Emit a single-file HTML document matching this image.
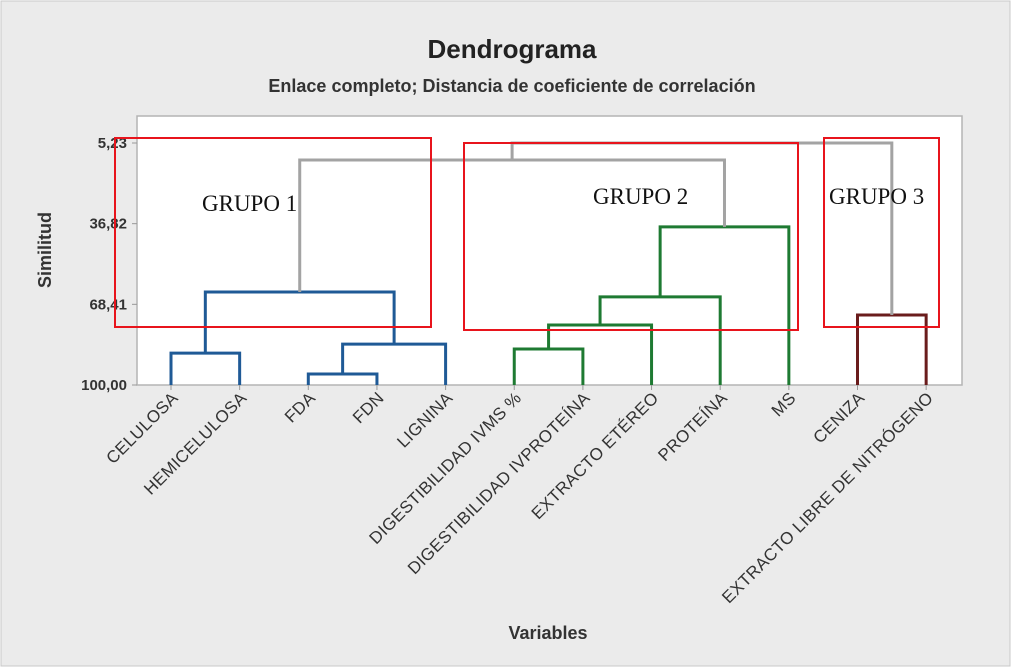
<!DOCTYPE html>
<html><head><meta charset="utf-8">
<style>
html,body{margin:0;padding:0;background:#fff;}
svg{display:block;}
text{font-family:"Liberation Sans",sans-serif;}
</style></head>
<body>
<svg id="chart" width="1011" height="667" viewBox="0 0 1011 667" xmlns="http://www.w3.org/2000/svg">
  <rect x="1" y="1" width="1009" height="665" fill="#ebebeb" stroke="#c8c8c8"/>
  <text x="512" y="58" text-anchor="middle" font-size="26" font-weight="bold" fill="#222">Dendrograma</text>
  <text x="512" y="92" text-anchor="middle" font-size="18" font-weight="bold" fill="#333">Enlace completo; Distancia de coeficiente de correlación</text>
  <rect x="137" y="116" width="825" height="269" fill="#fff" stroke="#b4b4b4" stroke-width="1.5"/>
  <text transform="translate(51,250) rotate(-90)" text-anchor="middle" font-size="18" font-weight="bold" fill="#333">Similitud</text>
  <text x="548" y="639" text-anchor="middle" font-size="18" font-weight="bold" fill="#333">Variables</text>
  <g id="axes"></g>
  <g id="links"></g>
  <g id="labels"></g>
  <g id="groups"></g>
</svg>
<script>
const leaves = ["CELULOSA","HEMICELULOSA","FDA","FDN","LIGNINA","DIGESTIBILIDAD IVMS %","DIGESTIBILIDAD IVPROTEÍNA","EXTRACTO ETÉREO","PROTEÍNA","MS","CENIZA","EXTRACTO LIBRE DE NITRÓGENO"];
const yTicks = [5.23, 36.82, 68.41, 100.00];
const yTickLabels = ["5,23","36,82","68,41","100,00"];
// merges: nodes 0..11 are leaves, 12+ are merges in order
const mergeLeft  = [2, 0, 12, 5, 15, 16, 10, 13, 17, 19, 21];
const mergeRight = [3, 1, 4, 6, 7, 8, 11, 14, 9, 20, 18];
const mergeSim   = [95.7, 87.5, 84.0, 85.9, 76.5, 65.5, 72.6, 63.6, 38.1, 11.9, 5.23];
const mergeColor = ["#1f5a96","#1f5a96","#1f5a96","#1e7a32","#1e7a32","#1e7a32","#6a1c1c","#1f5a96","#1e7a32","#a3a3a3","#a3a3a3"];

const svgNS="http://www.w3.org/2000/svg";
const X0=171, DX=68.65;
const xOf=i=>X0+i*DX;
const yOf=s=>143+(s-5.23)*(385-143)/(100-5.23);

const axes=document.getElementById('axes');
yTicks.forEach((t,i)=>{
  const l=document.createElementNS(svgNS,'line');
  l.setAttribute('x1',132);l.setAttribute('x2',137);l.setAttribute('y1',yOf(t));l.setAttribute('y2',yOf(t));
  l.setAttribute('stroke','#999');
  
  
  axes.appendChild(l);
  const tx=document.createElementNS(svgNS,'text');
  tx.setAttribute('x',127);tx.setAttribute('y',yOf(t)+5);tx.setAttribute('text-anchor','end');
  tx.setAttribute('font-size','15');tx.setAttribute('font-weight','bold');tx.setAttribute('fill','#333');
  tx.textContent=yTickLabels[i];
  
  
  axes.appendChild(tx);
});

const nodeX=leaves.map((_,i)=>xOf(i));
const nodeS=leaves.map(()=>100);
const links=document.getElementById('links');
for(let k=0;k<mergeSim.length;k++){
  const a=mergeLeft[k], b=mergeRight[k], s=mergeSim[k];
  const xa=nodeX[a], xb=nodeX[b], y=yOf(s);
  const p=document.createElementNS(svgNS,'path');
  p.setAttribute('d',`M${xa},${yOf(nodeS[a])}V${y}H${xb}V${yOf(nodeS[b])}`);
  p.setAttribute('fill','none');p.setAttribute('stroke',mergeColor[k]);p.setAttribute('stroke-width','3');
  
  
  links.appendChild(p);
  nodeX.push((xa+xb)/2); nodeS.push(s);
}

const labels=document.getElementById('labels');
leaves.forEach((n,i)=>{
  const t=document.createElementNS(svgNS,'text');
  t.setAttribute('transform',`translate(${xOf(i)+8},${399}) rotate(-45)`);
  t.setAttribute('text-anchor','end');t.setAttribute('font-size','17');t.setAttribute('fill','#333');
  t.setAttribute('letter-spacing','0.3');
  t.textContent=n;
  
  
  labels.appendChild(t);
  const tk=document.createElementNS(svgNS,'line');
  tk.setAttribute('x1',xOf(i));tk.setAttribute('x2',xOf(i));tk.setAttribute('y1',385);tk.setAttribute('y2',390);
  tk.setAttribute('stroke','#999');
  
  
  labels.appendChild(tk);
});

const groups=document.getElementById('groups');
const boxes=[[115,138,316,189,"GRUPO 1",202,211],[464,143,334,187,"GRUPO 2",593,204],[824,138,115,189,"GRUPO 3",829,204]];
boxes.forEach((b,i)=>{
  const r=document.createElementNS(svgNS,'rect');
  r.setAttribute('x',b[0]);r.setAttribute('y',b[1]);r.setAttribute('width',b[2]);r.setAttribute('height',b[3]);
  r.setAttribute('fill','none');r.setAttribute('stroke','#e8141c');r.setAttribute('stroke-width','2');
  
  
  groups.appendChild(r);
  const t=document.createElementNS(svgNS,'text');
  t.setAttribute('x',b[5]);t.setAttribute('y',b[6]);t.setAttribute('font-size','23');
  t.setAttribute('style','font-family:"Liberation Serif",serif');t.setAttribute('fill','#111');
  t.textContent=b[4];
  
  
  groups.appendChild(t);
});
</script>
</body></html>
